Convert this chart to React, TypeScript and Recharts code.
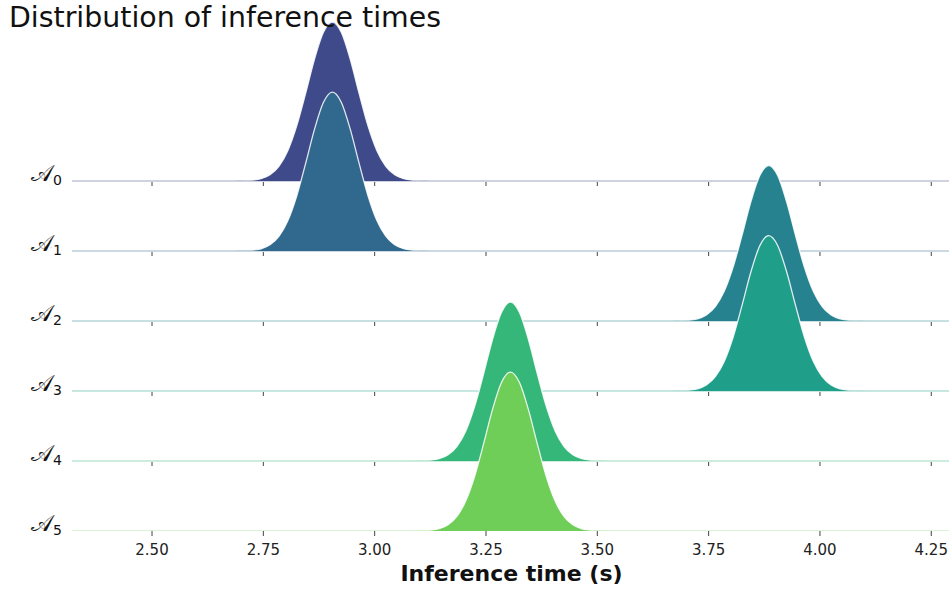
import React from 'react';
import { ComposedChart, Area, Line, Scatter, XAxis, YAxis } from 'recharts';

// Density estimates of the inference time for each model, one ridge per row.
const A0_TIMES = [2.665, 2.685, 2.705, 2.725, 2.745, 2.765, 2.785, 2.805, 2.825, 2.845, 2.865, 2.885, 2.905, 2.925, 2.945, 2.965, 2.985, 3.005, 3.025, 3.045, 3.065, 3.085, 3.105, 3.125, 3.145];
const A0_DENSITY = [0, 0.001, 0.003, 0.011, 0.033, 0.089, 0.21, 0.434, 0.788, 1.253, 1.743, 2.125, 2.27, 2.125, 1.743, 1.253, 0.788, 0.434, 0.21, 0.089, 0.033, 0.011, 0.003, 0.001, 0];

const A1_TIMES = [2.665, 2.685, 2.705, 2.725, 2.745, 2.765, 2.785, 2.805, 2.825, 2.845, 2.865, 2.885, 2.905, 2.925, 2.945, 2.965, 2.985, 3.005, 3.025, 3.045, 3.065, 3.085, 3.105, 3.125, 3.145];
const A1_DENSITY = [0, 0.001, 0.003, 0.011, 0.032, 0.088, 0.209, 0.432, 0.786, 1.251, 1.741, 2.124, 2.27, 2.126, 1.745, 1.255, 0.79, 0.435, 0.211, 0.089, 0.033, 0.011, 0.003, 0.001, 0];

const A2_TIMES = [3.645, 3.665, 3.685, 3.705, 3.725, 3.745, 3.765, 3.785, 3.805, 3.825, 3.845, 3.865, 3.885, 3.905, 3.925, 3.945, 3.965, 3.985, 4.005, 4.025, 4.045, 4.065, 4.085, 4.105, 4.125];
const A2_DENSITY = [0, 0.001, 0.003, 0.01, 0.032, 0.087, 0.206, 0.424, 0.77, 1.225, 1.705, 2.078, 2.22, 2.078, 1.705, 1.225, 0.77, 0.424, 0.206, 0.087, 0.032, 0.01, 0.003, 0.001, 0];

const A3_TIMES = [3.645, 3.665, 3.685, 3.705, 3.725, 3.745, 3.765, 3.785, 3.805, 3.825, 3.845, 3.865, 3.885, 3.905, 3.925, 3.945, 3.965, 3.985, 4.005, 4.025, 4.045, 4.065, 4.085, 4.105, 4.125];
const A3_DENSITY = [0, 0.001, 0.003, 0.01, 0.031, 0.086, 0.205, 0.422, 0.768, 1.223, 1.703, 2.077, 2.22, 2.079, 1.707, 1.227, 0.772, 0.425, 0.207, 0.087, 0.032, 0.01, 0.003, 0.001, 0];

const A4_TIMES = [3.065, 3.085, 3.105, 3.125, 3.145, 3.165, 3.185, 3.205, 3.225, 3.245, 3.265, 3.285, 3.305, 3.325, 3.345, 3.365, 3.385, 3.405, 3.425, 3.445, 3.465, 3.485, 3.505, 3.525, 3.545];
const A4_DENSITY = [0, 0.001, 0.003, 0.011, 0.033, 0.089, 0.21, 0.434, 0.788, 1.253, 1.743, 2.125, 2.27, 2.125, 1.743, 1.253, 0.788, 0.434, 0.21, 0.089, 0.033, 0.011, 0.003, 0.001, 0];

const A5_TIMES = [3.065, 3.085, 3.105, 3.125, 3.145, 3.165, 3.185, 3.205, 3.225, 3.245, 3.265, 3.285, 3.305, 3.325, 3.345, 3.365, 3.385, 3.405, 3.425, 3.445, 3.465, 3.485, 3.505, 3.525, 3.545];
const A5_DENSITY = [0, 0.001, 0.003, 0.011, 0.033, 0.09, 0.211, 0.436, 0.79, 1.255, 1.745, 2.126, 2.27, 2.124, 1.741, 1.251, 0.786, 0.432, 0.209, 0.088, 0.032, 0.011, 0.003, 0.001, 0];

const SERIES_TIMES = [A0_TIMES, A1_TIMES, A2_TIMES, A3_TIMES, A4_TIMES, A5_TIMES];
const SERIES_DENSITY = [A0_DENSITY, A1_DENSITY, A2_DENSITY, A3_DENSITY, A4_DENSITY, A5_DENSITY];

const X_TICKS = [2.5, 2.75, 3.0, 3.25, 3.5, 3.75, 4.0, 4.25];
const X_DOMAIN = [2.3203, 4.2898];
const Y_DOMAIN = [0, 7.5];

const COLORS = ['#3e4a89', '#31688e', '#26828e', '#1f9e89', '#35b779', '#6ece58'];

const ROW_COUNT = SERIES_TIMES.length;

// Each row i sits at height (ROW_COUNT - 1 - i) on the y scale.
const rows = SERIES_TIMES.map((times, i) => {
  const offset = ROW_COUNT - 1 - i;
  return {
    index: i,
    offset,
    color: COLORS[i],
    ridge: times.map((t, j) => ({ t, hi: offset + SERIES_DENSITY[i][j] })),
    baseline: [
      { t: X_DOMAIN[0], y: offset },
      { t: X_DOMAIN[1], y: offset },
    ],
    ticks: X_TICKS.map((t) => ({ t, y: offset })),
  };
});

const FONT = '"DejaVu Sans", sans-serif';

const RowLabel = (props: any) => {
  const { x, y, payload } = props;
  const idx = ROW_COUNT - 1 - payload.value;
  return (
    <text x={x} y={y} textAnchor="end" fill="#111" fontFamily={FONT}>
      <tspan fontSize={23}>𝒜</tspan>
      <tspan fontSize={14} dy={4}>{idx}</tspan>
    </text>
  );
};

const TickMark = (props: any) => {
  const { cx, cy } = props;
  if (cx == null || cy == null) return <g />;
  return <line x1={cx} x2={cx} y1={cy + 1} y2={cy + 5} stroke="#444" strokeWidth={1} />;
};

export default function App() {
  return (
    <div style={{ position: 'relative', width: 949, height: 590 }}>
      <style>{'body{margin:0}'}</style>
      <ComposedChart width={949} height={590} margin={{ top: 6, right: 0, bottom: 0, left: 0 }}>
        <XAxis
          dataKey="t"
          type="number"
          domain={X_DOMAIN}
          ticks={X_TICKS}
          allowDataOverflow
          tickFormatter={(v: number) => v.toFixed(2)}
          axisLine={false}
          tickSize={5}
          tickMargin={8}
          tickLine={{ stroke: '#444' }}
          tick={{ fill: '#222', fontSize: 15, fontFamily: FONT }}
          height={59}
        />
        <YAxis
          type="number"
          domain={Y_DOMAIN}
          ticks={[0, 1, 2, 3, 4, 5]}
          allowDataOverflow
          axisLine={false}
          tickLine={false}
          tickSize={0}
          tickMargin={10}
          tick={<RowLabel />}
          width={72}
        />
        {rows.map((r) => [
          <Area
            key={`ridge-${r.index}`}
            data={r.ridge}
            dataKey="hi"
            baseValue={r.offset}
            type="monotone"
            fill={r.color}
            fillOpacity={1}
            stroke="#ffffff"
            strokeOpacity={0.85}
            strokeWidth={1.3}
            dot={false}
            activeDot={false}
            isAnimationActive={false}
            zIndex={10 * r.index + 1}
          />,
          <Line
            key={`base-${r.index}`}
            data={r.baseline}
            dataKey="y"
            stroke={r.color}
            strokeOpacity={0.25}
            strokeWidth={2}
            dot={false}
            activeDot={false}
            isAnimationActive={false}
            zIndex={10 * r.index + 2}
          />,
          r.index < ROW_COUNT - 1 ? (
            <Scatter
              key={`ticks-${r.index}`}
              data={r.ticks}
              dataKey="y"
              shape={<TickMark />}
              isAnimationActive={false}
              zIndex={10 * r.index + 3}
            />
          ) : null,
        ])}
      </ComposedChart>
      <svg
        width={949}
        height={590}
        style={{ position: 'absolute', left: 0, top: 0, pointerEvents: 'none' }}
      >
        <text x={9} y={27} fontSize={28.4} fontFamily={FONT} fill="#111">
          Distribution of inference times
        </text>
        <text x={511.5} y={581} fontSize={22} fontWeight="bold" fontFamily={FONT} fill="#111" textAnchor="middle">
          Inference time (s)
        </text>
      </svg>
    </div>
  );
}
